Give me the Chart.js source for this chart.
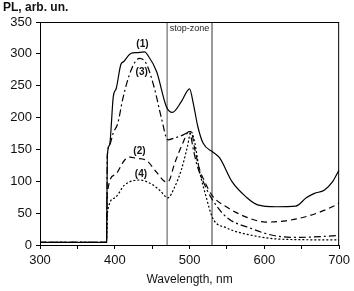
<!DOCTYPE html>
<html><head><meta charset="utf-8">
<script src="https://cdn.jsdelivr.net/npm/chart.js@4.4.1/dist/chart.umd.min.js"></script>
<style>html,body{margin:0;padding:0;background:#fff}#wrap{width:354px;height:291px}</style>
</head><body><div id="wrap"><canvas id="c" width="354" height="291"></canvas></div>
<script>
// Data (wavelength nm, PL arb. un.)
const wl1 = [300,389,390,393,398,402,408,412,422,429,440,444,456,469,477,489,500,505,511,518,531,540,557,576,591,616,642,656,667,680,691,700];
const pl1 = [4,4,140,157,233,246,283,288,301,302,303,298,272,217,208,225,245,222,186,160,146,137,99,75,63,60,61,74,81,86,99,118];
const wl2 = [300,389,390,400,413,420,429,442,456,469,472,480,491,499,502,507,513,520,530,549,580,602,629,660,696,700];
const pl2 = [4,4,81,110,133,138,136,133,114,99,100,128,160,178,178,150,120,100,78,60,42,36,38,46,63,66];
const wl3 = [300,389,390,393,398,404,411,422,433,442,453,462,471,480,490,500,505,510,520,530,550,580,616,647,700];
const pl3 = [4,4,140,157,176,191,231,275,293,285,246,201,165,168,172,177,150,125,95,72,43,27,14,12,15];
const wl4 = [300,389,390,400,413,433,447,460,471,480,489,497,502,507,513,522,531,549,580,624,700];
const pl4 = [4,4,50,74,94,102,97,86,74,91,118,154,178,160,118,76,42,27,16,9,8];
const zoneEdges = [470, 530];
const curveLabels = ['(1)','(2)','(3)','(4)'];
const labelX = [437, 433, 436, 435];
const labelY = [315, 147, 271, 111];
const zoneText = 'stop-zone';
const zoneTextX = 500, zoneTextY = 339;
const xTicks = [300,400,500,600,700];
const yTicks = [0,50,100,150,200,250,300,350];

const pts = (xs, ys) => xs.map((x, i) => ({x, y: ys[i]}));
const base = {pointRadius: 0, borderColor: '#000', borderWidth: 1.2, fill: false, cubicInterpolationMode: 'monotone'};

const frame = {
  id: 'frame',
  afterDatasetsDraw(chart) {
    const {ctx, chartArea: a, scales} = chart;
    ctx.save();
    ctx.strokeStyle = '#000'; ctx.lineWidth = 1;
    ctx.strokeRect(a.left + 0.5, a.top + 0.5, a.right - a.left - 1, a.bottom - a.top);
    ctx.fillStyle = '#111';
    ctx.font = 'bold 10px "Liberation Sans", Arial, sans-serif';
    ctx.textAlign = 'center'; ctx.textBaseline = 'middle';
    curveLabels.forEach((t, i) => ctx.fillText(t, scales.x.getPixelForValue(labelX[i]), scales.y.getPixelForValue(labelY[i])));
    ctx.font = '9px "Liberation Sans", Arial, sans-serif';
    ctx.fillStyle = '#222';
    ctx.fillText(zoneText, scales.x.getPixelForValue(zoneTextX), scales.y.getPixelForValue(zoneTextY));
    ctx.font = 'bold 12px "Liberation Sans", Arial, sans-serif';
    ctx.textAlign = 'left'; ctx.textBaseline = 'middle';
    ctx.fillStyle = '#111';
    ctx.fillText('PL, arb. un.', 3, 8);
    ctx.restore();
  }
};

new Chart(document.getElementById('c'), {
  type: 'line',
  data: {
    datasets: [
      Object.assign({}, base, {label: '(1)', data: pts(wl1, pl1)}),
      Object.assign({}, base, {label: '(2)', data: pts(wl2, pl2), borderDash: [6, 4]}),
      Object.assign({}, base, {label: '(3)', data: pts(wl3, pl3), borderDash: [7, 3, 2, 3]}),
      Object.assign({}, base, {label: '(4)', data: pts(wl4, pl4), borderDash: [2, 2]}),
      {label: 'zone1', data: [{x: zoneEdges[0], y: 0}, {x: zoneEdges[0], y: 350}], borderColor: '#8a8a8a', borderWidth: 1.5, pointRadius: 0},
      {label: 'zone2', data: [{x: zoneEdges[1], y: 0}, {x: zoneEdges[1], y: 350}], borderColor: '#555', borderWidth: 1.2, pointRadius: 0}
    ]
  },
  options: {
    responsive: false, animation: false,
    layout: {padding: {top: 22, right: 14, left: 0, bottom: 0}},
    plugins: {legend: {display: false}, tooltip: {enabled: false}},
    scales: {
      x: {
        type: 'linear', min: 300, max: 700,
        afterFit(s) { s.height = 46; },
        afterBuildTicks(s) { s.ticks = [300,350,400,450,500,550,600,650,700].map(v => ({value: v})); },
        ticks: {color: '#111', font: {size: 13, family: '"Liberation Sans", Arial, sans-serif'}, padding: 4, maxRotation: 0,
          callback: v => xTicks.includes(v) ? String(v) : ''},
        grid: {display: true, drawOnChartArea: false, drawTicks: true, tickLength: 4, color: '#000'},
        border: {color: '#000', width: 1},
        title: {display: true, text: 'Wavelength, nm', color: '#111', font: {size: 12, family: '"Liberation Sans", Arial, sans-serif'}, padding: {top: 0, bottom: 4}}
      },
      y: {
        min: 0, max: 350,
        afterFit(s) { s.width = 40; },
        afterBuildTicks(s) { const t = []; for (let v = 0; v <= 350; v += 25) t.push({value: v}); s.ticks = t; },
        ticks: {color: '#111', font: {size: 13, family: '"Liberation Sans", Arial, sans-serif'}, padding: 4,
          callback: v => yTicks.includes(v) ? String(v) : ''},
        grid: {display: true, drawOnChartArea: false, drawTicks: true, tickLength: 4, color: '#000'},
        border: {color: '#000', width: 1}
      }
    }
  },
  plugins: [frame]
});
</script></body></html>
